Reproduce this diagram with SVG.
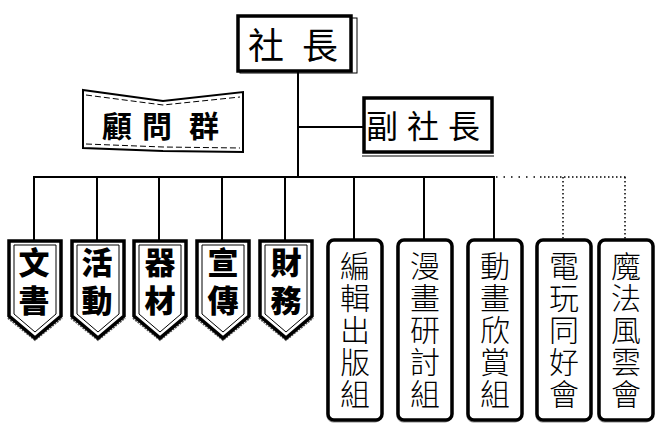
<svg xmlns="http://www.w3.org/2000/svg" width="670" height="431" viewBox="0 0 670 431">
<style>
.ln{stroke:#000;stroke-width:2;fill:none}
.dot{stroke:#000;stroke-width:1.5;fill:none;stroke-dasharray:1.5,2.5}
.box{fill:#fff;stroke:#000;stroke-width:3.5}
.thin{fill:none;stroke:#000;stroke-width:1}
.shadow{fill:none;stroke:#555;stroke-width:2;stroke-dasharray:2,1}
.t{font-family:"Noto Sans CJK TC","Noto Sans CJK JP",sans-serif;text-anchor:middle;fill:#000}
.v{font-family:"Noto Sans CJK TC","Noto Sans CJK JP",sans-serif;writing-mode:vertical-rl;text-anchor:start;fill:#000}
.big{font-size:36px}
.mid{font-size:32px}
.bold{font-size:31px;font-weight:900;letter-spacing:7px}
.club{font-size:30px;font-weight:300;letter-spacing:2px}
</style>
<defs>
<g id="shield">
<polyline class="shadow" points="-27,77 0,99 27,77"/>
<polygon class="box" points="-26,0 26,0 26,75 0,97 -26,75"/>
<polygon class="thin" points="-21,4 21,4 21,73 0,91 -21,73"/>
</g>
<g id="club">
<rect x="-25" y="0" width="54" height="180" rx="6" fill="none" stroke="#888" stroke-width="1" transform="translate(-3,2)"/>
<rect x="-27" y="0" width="54" height="180" rx="6" class="box"/>
</g>
</defs>
<g id="connectors">
<line class="ln" x1="298" y1="72" x2="298" y2="178"/>
<line class="ln" x1="298" y1="127" x2="363" y2="127"/>
<line class="ln" x1="33" y1="177" x2="495" y2="177"/>
<line class="ln" x1="34" y1="177" x2="34" y2="241"/>
<line class="ln" x1="97" y1="177" x2="97" y2="241"/>
<line class="ln" x1="159" y1="177" x2="159" y2="241"/>
<line class="ln" x1="222" y1="177" x2="222" y2="241"/>
<line class="ln" x1="285" y1="177" x2="285" y2="241"/>
<line class="ln" x1="354" y1="177" x2="354" y2="241"/>
<line class="ln" x1="424" y1="177" x2="424" y2="241"/>
<line class="ln" x1="494" y1="177" x2="494" y2="241"/>
<line class="dot" x1="496" y1="177" x2="540" y2="177" style="stroke-dasharray:1.5,6"/>
<line class="dot" x1="540" y1="177" x2="626" y2="177"/>
<line class="dot" x1="563" y1="177" x2="563" y2="240"/>
<line class="dot" x1="625" y1="177" x2="625" y2="240"/>
</g>
<g id="president">
<rect x="240" y="18" width="117" height="55" fill="none" stroke="#000" stroke-width="1"/>
<rect x="238" y="16" width="113" height="55" class="box"/>
<text class="t big" x="266" y="59">社</text>
<text class="t big" x="320" y="59">長</text>
</g>
<g id="vice-president">
<line class="thin" x1="362" y1="156" x2="494" y2="156"/>
<rect x="364" y="98" width="128" height="54" class="box"/>
<text class="t mid" x="382" y="138">副</text>
<text class="t mid" x="423" y="138">社</text>
<text class="t mid" x="464" y="138">長</text>
</g>
<g id="advisors">
<polygon points="83,90 163,101 243,92 243,152 163,151 83,148" fill="#fff" stroke="#000" stroke-width="2"/>
<polyline points="86,95 163,105 240,97" fill="none" stroke="#000" stroke-width="1" stroke-dasharray="6,3"/>
<polyline points="86,144 163,147 240,148" fill="none" stroke="#000" stroke-width="1" stroke-dasharray="6,3"/>
<text class="t" style="font-size:30px;font-weight:700" x="117" y="137">顧</text>
<text class="t" style="font-size:30px;font-weight:700" x="157" y="137">問</text>
<text class="t" style="font-size:30px;font-weight:700" x="204" y="137">群</text>
</g>
<g id="dept-docs">
<use href="#shield" x="35" y="241"/>
<text class="v bold" x="34" y="247">文書</text>
</g>
<g id="dept-activities">
<use href="#shield" x="98" y="241"/>
<text class="v bold" x="97" y="247">活動</text>
</g>
<g id="dept-equipment">
<use href="#shield" x="160" y="241"/>
<text class="v bold" x="160" y="247">器材</text>
</g>
<g id="dept-publicity">
<use href="#shield" x="223" y="241"/>
<text class="v bold" x="223" y="247">宣傳</text>
</g>
<g id="dept-finance">
<use href="#shield" x="286" y="241"/>
<text class="v bold" x="286" y="247">財務</text>
</g>
<g id="club-editing">
<use href="#club" x="355" y="240"/>
<text class="v club" x="355" y="251">編輯出版組</text>
</g>
<g id="club-comics">
<use href="#club" x="425" y="240"/>
<text class="v club" x="425" y="251">漫畫研討組</text>
</g>
<g id="club-animation">
<use href="#club" x="495" y="240"/>
<text class="v club" x="495" y="251">動畫欣賞組</text>
</g>
<g id="club-games">
<use href="#club" x="564" y="240"/>
<text class="v club" x="564" y="251">電玩同好會</text>
</g>
<g id="club-magic">
<use href="#club" x="626" y="240"/>
<text class="v club" x="626" y="251">魔法風雲會</text>
</g>
</svg>
